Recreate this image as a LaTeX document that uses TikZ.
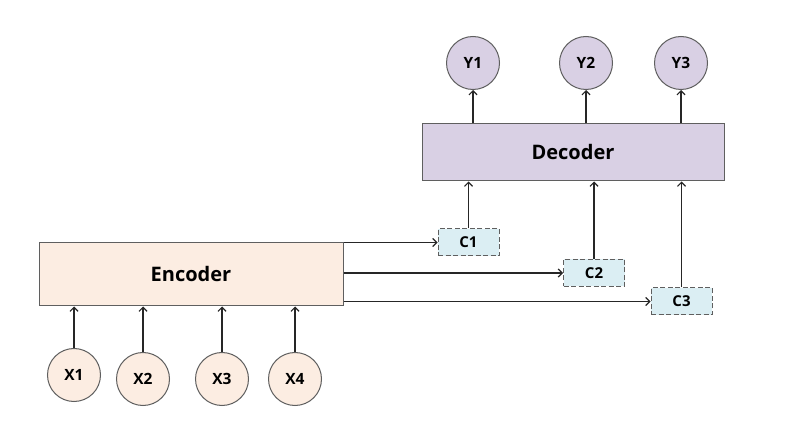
\documentclass[tikz,border=0pt]{standalone}
\usepackage{fontspec}
\setmainfont{Open Sans}
\usepackage{tikz}
\usetikzlibrary{positioning, arrows.meta}

\definecolor{encfill}{RGB}{252,237,226}
\definecolor{decfill}{RGB}{217,208,228}
\definecolor{ctxfill}{RGB}{219,238,243}
\definecolor{edgegray}{RGB}{95,95,95}

\begin{document}
\begin{tikzpicture}[x=1pt, y=-1pt,
    block/.style={draw=edgegray, line width=1pt, font=\bfseries\fontsize{20}{22}\selectfont},
    encbox/.style={block, fill=encfill, minimum width=304pt, minimum height=63pt},
    decbox/.style={block, fill=decfill, minimum width=302pt, minimum height=57pt},
    ctxbox/.style={draw=edgegray, dash pattern=on 5pt off 2.5pt, line width=1pt, fill=ctxfill, minimum width=61pt, minimum height=27pt, font=\bfseries\fontsize{15}{17}\selectfont},
    tok/.style={circle, draw=edgegray, line width=1pt, minimum size=53pt, inner sep=0pt, font=\bfseries\fontsize{15.5}{17}\selectfont},
    flow/.style={line width=1.2pt, black!85, -{Straight Barb[length=4pt, width=8pt]}}]
    \useasboundingbox (0,0) rectangle (790,430);

    \node[encbox] (enc) at (191,274.5) {Encoder};
    \node[decbox] (dec) at (573,152.5) {Decoder};

    % inputs
    \node[tok, fill=encfill] (x1) at (74,375) {X1};
    \node[tok, fill=encfill] (x2) at (143,379) {X2};
    \node[tok, fill=encfill] (x3) at (222,379) {X3};
    \node[tok, fill=encfill] (x4) at (295,379) {X4};

    % outputs
    \node[tok, fill=decfill] (y1) at (473,63) {Y1};
    \node[tok, fill=decfill] (y2) at (586,63) {Y2};
    \node[tok, fill=decfill] (y3) at (681,63) {Y3};

    % context vectors
    \node[ctxbox] (c1) at (468.5,242.5) {C1};
    \node[ctxbox] (c2) at (594,273) {C2};
    \node[ctxbox] (c3) at (681.5,301.5) {C3};

    \foreach \i in {1,...,4}
        \draw[flow] (x\i) -- (x\i |- enc.south);
    \foreach \i in {1,...,3} {
        \draw[flow] (enc.east |- c\i.west) -- (c\i.west);
        \draw[flow] (c\i) -- (c\i |- dec.south);
        \draw[flow] (y\i |- dec.north) -- (y\i);
    }
\end{tikzpicture}
\end{document}
